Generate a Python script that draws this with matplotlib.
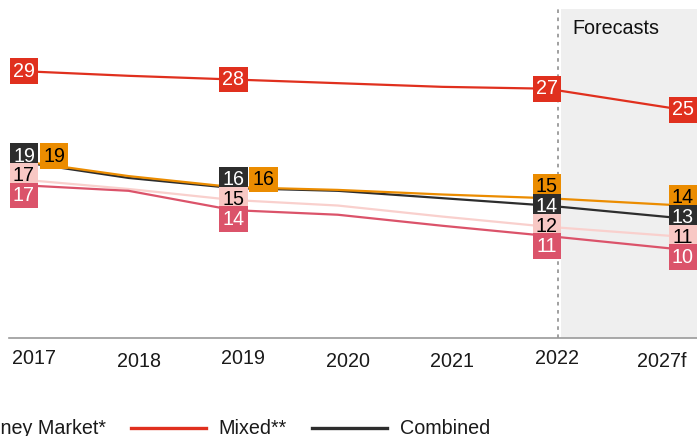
import numpy as np
import matplotlib.pyplot as plt
from matplotlib.lines import Line2D
from matplotlib.transforms import ScaledTranslation

plt.rcParams['font.family'] = ['Liberation Sans', 'DejaVu Sans']

# average fees per fund type
years = ['2017', '2018', '2019', '2020', '2021', '2022', '2027f']
equity = [19.2, 17.6, 16.4, 16.1, 15.6, 15.2, 14.4]
bond = [17.2, 16.2, 15.0, 14.4, 13.2, 12.1, 11.0]
money_market = [16.6, 16.0, 13.9, 13.4, 12.2, 11.1, 9.6]
mixed = [29.0, 28.5, 28.1, 27.7, 27.3, 27.1, 24.8]
combined = [19.1, 17.4, 16.3, 16.0, 15.2, 14.4, 13.0]
labelled = [0, 2, 5, 6]
raised_ticks = ['2017', '2019', '2022']
legend_names = ['Equity', 'Bond', 'Money Market*', 'Mixed**', 'Combined']

RED, ORANGE, DARK = '#e0301e', '#eb8c00', '#2d2d2d'
ROSE, BLUSH = '#db536a', '#f8c8c4'
FS = 14.2

W, H = 697, 436
fig = plt.figure(figsize=(W / 100, H / 100), dpi=100)
ax = fig.add_axes([0, 0, 1, 1])
ax.set_xlim(-0.229, 6.434)
ax.set_ylim(-10.65, 36.74)

# forecast year sits a little further out (5-year step)
x = np.arange(len(years), dtype=float)
x[-1] += 0.3

# forecast area
ax.fill_between([5.134, 7], 0, 35.76, color='#efefef', lw=0, zorder=0)
ax.vlines(5.105, 0, 35.76, colors='#999999', linestyles=(0, (2, 2.5)), lw=1.3, zorder=1)
ax.text(5.24, 33.6, 'Forecasts', fontsize=FS, color='#111111', va='center', ha='left')

# lines (bottom to top)
series = [
    (bond, '#f9d0cd', 'black'),
    (money_market, ROSE, 'white'),
    (combined, DARK, 'white'),
    (equity, ORANGE, 'black'),
    (mixed, RED, 'white'),
]
for vals, col, _ in series:
    ax.plot(x, vals, color=col, lw=1.6, zorder=2, solid_capstyle='butt')

box_col = {id(bond): BLUSH, id(money_market): ROSE, id(combined): DARK,
           id(equity): ORANGE, id(mixed): RED}
txt_col = {id(v): t for v, _, t in series}


def put_label(i, y, vals, dx_px=0):
    ax.annotate(f'{vals[i]:.0f}', xy=(x[i], y), xytext=(dx_px * 0.72, 0),
                textcoords='offset points', ha='center', va='center',
                fontsize=FS, color=txt_col[id(vals)], zorder=5,
                bbox=dict(boxstyle='square,pad=0.17', fc=box_col[id(vals)], ec='none'))


gap = 2.15  # label height in data units
for i in labelled:
    put_label(i, mixed[i], mixed)
    if abs(equity[i] - combined[i]) < 0.5:
        stack = [combined, bond, money_market]
        side = equity
    else:
        stack = [equity, combined, bond, money_market]
        side = None
    ys = [s[i] for s in stack]
    placed = []
    for y in ys:
        if placed and y > placed[-1] - gap:
            y = placed[-1] - gap
        placed.append(y)
    shift = np.mean(ys) - np.mean(placed)
    placed = [p + shift for p in placed]
    for s, y in zip(stack, placed):
        put_label(i, y, s)
    if side is not None:
        put_label(i, placed[0], side, 30)

# axis
for k in ['top', 'left', 'right']:
    ax.spines[k].set_visible(False)
ax.spines['bottom'].set_position(('data', 0))
ax.spines['bottom'].set_bounds(-0.143, 6.5)
ax.spines['bottom'].set_color('#9a9a9a')
ax.spines['bottom'].set_linewidth(1.2)
ax.set_yticks([])
ax.set_xticks(np.arange(len(years)), years)
ax.tick_params(axis='x', length=0, pad=10, labelsize=FS, colors='#1a1a1a')
for lab in ax.get_xticklabels():
    dy = 0.03 if lab.get_text() in raised_ticks else 0
    lab.set_transform(lab.get_transform() + ScaledTranslation(0.1, dy, fig.dpi_scale_trans))

# legend laid out right to left from the last entry
renderer = fig.canvas.get_renderer()
leg_cols = [ORANGE, BLUSH, ROSE, RED, DARK]
leg_y = 1 - 428 / H
line_x = 312
for name, col in zip(legend_names[::-1], leg_cols[::-1]):
    t = fig.text(0, leg_y, name, fontsize=FS, color='#1a1a1a', va='center', ha='left')
    tw = t.get_window_extent(renderer).width
    if name != legend_names[-1]:
        line_x = line_x - 25 - tw - 88
    t.set_x((line_x + 88) / W)
    fig.add_artist(Line2D([line_x / W, (line_x + 75) / W], [leg_y, leg_y],
                          color=col, lw=2.4))

fig.savefig('out.png', dpi=100)
